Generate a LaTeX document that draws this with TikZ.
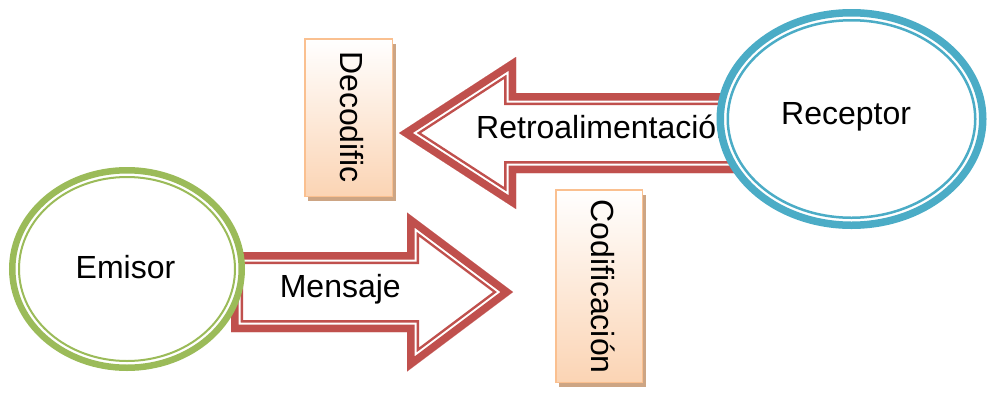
\documentclass[tikz,border=0pt]{standalone}
\usepackage{fontspec}
\setmainfont{Liberation Sans}
\usetikzlibrary{shapes.geometric,shadows}
\definecolor{emgreen}{HTML}{9BBB59}
\definecolor{recblue}{HTML}{4BACC6}
\definecolor{arrred}{HTML}{C0504D}
\definecolor{boxline}{HTML}{FAC090}
\definecolor{boxfill}{HTML}{FBD4B4}
\definecolor{boxshadow}{HTML}{CDA584}
\newcommand\bandedshape[1]{%
  \fill[white] #1 -- cycle;
  \begin{scope}
    \clip #1 -- cycle;
    \draw[arrred, line width=24pt, line join=miter] #1 -- cycle;
    \draw[white, line width=19pt, line join=miter] #1 -- cycle;
    \draw[arrred, line width=15pt, line join=miter] #1 -- cycle;
  \end{scope}}
\begin{document}
\begin{tikzpicture}[x=1pt,y=-1pt,
  txt/.style={font=\fontsize{32pt}{38pt}\selectfont, inner sep=0pt, text=black},
  oval/.style={ellipse, fill=white, inner sep=0pt},
  codebox/.style={rectangle, draw=boxline, line width=1.5pt, top color=white, bottom color=boxfill, inner sep=0pt,
    drop shadow={shadow xshift=3.5pt, shadow yshift=-5pt, fill=boxshadow, opacity=1}}]
\useasboundingbox[fill=white] (0,0) rectangle (992,394);

% block arrows
\bandedshape{(231,252) -- (407,252) -- (407,212.5) -- (513,292) -- (407,371.5) -- (407,332) -- (231,332)}
\bandedshape{(399,133) -- (516,57) -- (516,93) -- (745,93) -- (745,173) -- (516,173) -- (516,209)}
\node[txt, anchor=base west] (mensajeT) at (279.6,297) {Mensaje};
\node[txt, anchor=base west] (retroT) at (476,138) {Retroalimentación};

% ellipses
\node[oval, draw=emgreen, line width=6.5pt, minimum width=229.5pt, minimum height=197.5pt] (emisor) at (127,269) {};
\draw[emgreen, line width=2pt] (emisor.center) ellipse [x radius=108pt, y radius=92pt];
\node[txt, anchor=base west] (emisorT) at (75.5,278) {Emisor};

\node[oval, draw=recblue, line width=7.5pt, minimum width=262.5pt, minimum height=212.5pt] (receptor) at (851.5,119) {};
\draw[recblue, line width=2.5pt] (receptor.center) ellipse [x radius=123.75pt, y radius=98.75pt];
\node[txt, anchor=base west] (receptorT) at (781,124) {Receptor};

% boxes
\node[codebox, minimum width=87.5pt, minimum height=157.5pt] (deco) at (348.5,117.5) {};
\node[txt, rotate=-90, anchor=base] (decoT) at (340,117) {Decodific};
\node[codebox, minimum width=86.5pt, minimum height=192.5pt] (codi) at (599,286) {};
\node[txt, rotate=-90, anchor=base] (codiT) at (591.5,286.5) {Codificación};
\end{tikzpicture}
\end{document}
